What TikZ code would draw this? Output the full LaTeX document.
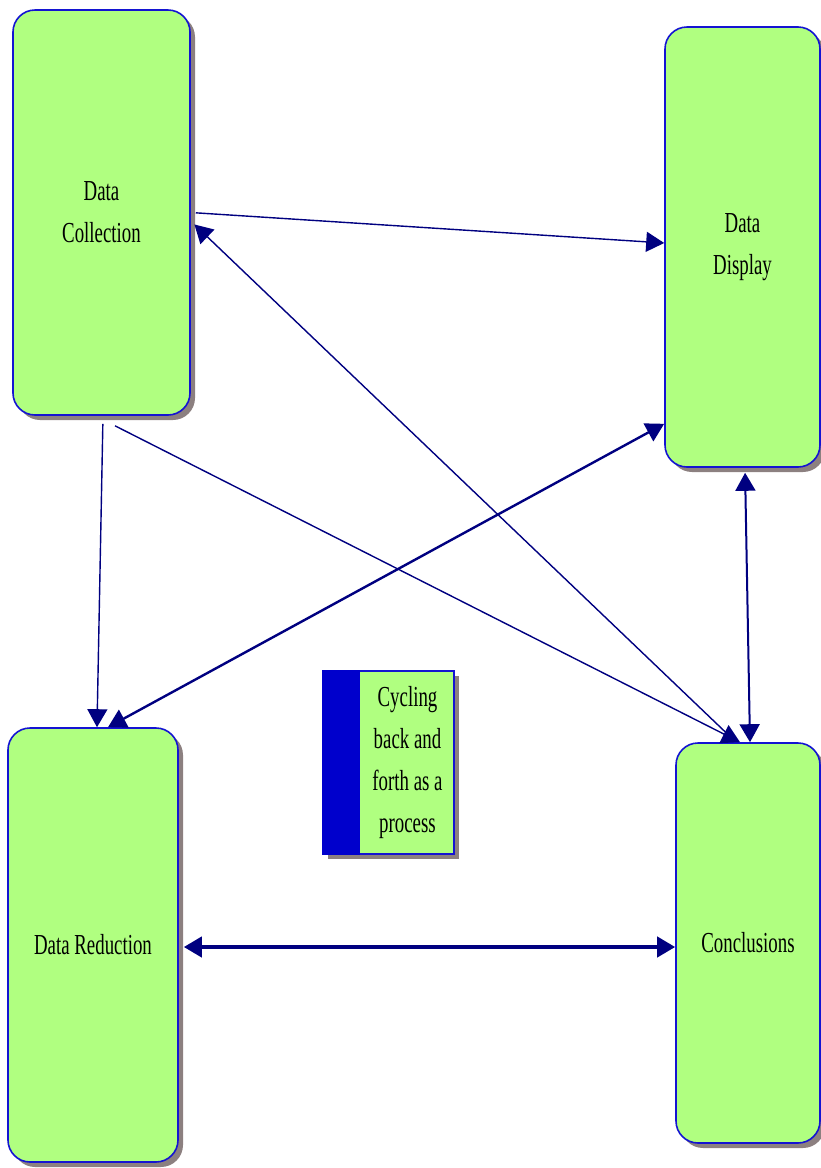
\documentclass[tikz,border=0pt]{standalone}
\usepackage{fontspec}
\newfontfamily\boxfont[FakeStretch=0.65]{Liberation Serif}
\usetikzlibrary{arrows.meta, calc, shadows}
\definecolor{boxgreen}{RGB}{176,255,128}
\definecolor{boxblue}{RGB}{20,20,210}
\definecolor{navyline}{RGB}{0,0,128}
\definecolor{shade}{RGB}{140,128,128}
\definecolor{stripblue}{RGB}{0,0,204}

\begin{document}
\begin{tikzpicture}[
    x=1pt, y=-1pt,
    >={Triangle[length=18pt, width=20pt]},
    every node/.style={font=\boxfont\fontsize{29pt}{42pt}\selectfont},
    stage/.style={draw=boxblue, line width=1.6pt, rounded corners=22pt,
                  fill=boxgreen, align=center,
                  drop shadow={shadow xshift=5pt, shadow yshift=-5pt,
                               fill=shade, opacity=1}},
    keybox/.style={draw=boxblue, line width=1.2pt, fill=boxgreen,
                   drop shadow={shadow xshift=5pt, shadow yshift=-5pt,
                                fill=shade, opacity=1}},
    link/.style={->, navyline, line width=1.4pt},
    duo/.style={<->, navyline, line width=2.4pt},
]
\useasboundingbox (0,0) rectangle (821,1168);
% the four stages
\node[stage, minimum width=177pt, minimum height=405pt] (coll)  at (101.5,212.5) {Data\\Collection};
\node[stage, minimum width=155pt, minimum height=440pt] (disp)  at (742.5,247)   {Data\\Display};
\node[stage, minimum width=170pt, minimum height=434pt] (red)   at (93,945)      {Data Reduction};
\node[stage, minimum width=144pt, minimum height=400pt] (concl) at (748,943)     {Conclusions};
% the key in the middle
\node[keybox, minimum width=131pt, minimum height=183pt] (key) at (388.5,762.5) {};
\fill[stripblue] (key.north west) rectangle ([xshift=38pt]key.south west);
\node[align=center] (keytext) at ([xshift=19pt]key.center)
     {Cycling\\back and\\forth as a\\process};
% thin one-way links
\draw[link, shorten <=5pt] (coll.east) -- ([yshift=4pt]disp.west);
\draw[link, shorten <=4pt, shorten >=5pt] ([xshift=-12pt]concl.north) -- ([yshift=-8.5pt]coll.east);
\draw[link, shorten <=8pt] ([xshift=1.5pt]coll.south) -- ([xshift=4pt]red.north);
\draw[link] ([xshift=13.5pt, yshift=-10pt]coll.south) -- ([xshift=-8pt]concl.north);
% two-way links
\draw[duo] ([xshift=15pt]red.north) -- ([yshift=44pt]disp.south west);
\draw[duo, line width=2pt, shorten <=5pt] ([xshift=2.5pt]disp.south) -- ([xshift=2pt]concl.north);
\draw[duo, line width=4pt, shorten <=5pt] ([yshift=-2pt]red.east) -- ([yshift=-2pt]red.east -| concl.west);
\end{tikzpicture}
\end{document}
